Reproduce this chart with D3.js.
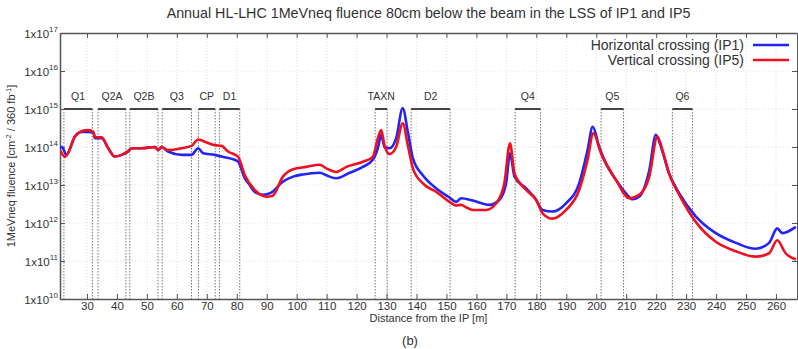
<!DOCTYPE html>
<html><head><meta charset="utf-8">
<script src="https://cdn.jsdelivr.net/npm/d3@7"></script>
<style>
body{margin:0;background:#fff}
svg text{font-family:"Liberation Sans",Arial,sans-serif;fill:#333}
</style>
</head><body>
<svg id="chart" width="798" height="349"></svg>
<script>
// ---- data ----
const titleText = "Annual HL-LHC 1MeVneq fluence 80cm below the beam in the LSS of IP1 and IP5";
const seriesNames = ["Horizontal crossing (IP1)", "Vertical crossing (IP5)"];
const xTicks = [30,40,50,60,70,80,90,100,110,120,130,140,150,160,170,180,190,200,210,220,230,240,250,260];
const yTicks = [1e10,1e11,1e12,1e13,1e14,1e15,1e16,1e17];
const yTickExponents = ["10","11","12","13","14","15","16","17"];
const elementNames = ["Q1","Q2A","Q2B","Q3","CP","D1","TAXN","D2","Q4","Q5","Q6"];
const elementStart = [22.3,33.7,44.3,55.1,67.2,74.2,126.2,138.2,172.9,201.6,225.4];
const elementEnd   = [31.8,43.0,53.7,64.9,72.8,81.0,130.2,151.2,181.4,209.1,232.1];

// Horizontal crossing (IP1): [distance m, fluence]
const horizontalIP1 = [[21.0,9.3e13],[21.6,1.0e14],[23.2,6.2e13],[26.0,1.9e14],[28.2,2.5e14],[30.4,2.5e14],[32.1,2.4e14],[32.7,1.7e14],[34.9,1.7e14],[37.1,9.3e13],[39.3,5.6e13],[41.6,6.2e13],[43.8,7.6e13],[44.9,9.3e13],[48.2,9.3e13],[52.7,1.0e14],[53.8,8.3e13],[54.9,1.0e14],[57.1,7.6e13],[61.6,6.2e13],[64.9,6.2e13],[67.1,9.3e13],[68.8,6.8e13],[72.7,6.2e13],[74.9,5.6e13],[79.3,4.6e13],[80.4,4.2e13],[82.7,1.5e13],[84.3,1.0e13],[86.0,6.6e12],[88.8,5.5e12],[91.5,6.3e12],[95.4,1.23e13],[98.8,1.66e13],[102.1,1.9e13],[107.7,2.1e13],[109.9,1.8e13],[113.2,1.5e13],[117.7,2.1e13],[122.1,3.0e13],[125.4,4.6e13],[127.1,9.3e13],[128.2,2.1e14],[129.3,1.0e14],[131.0,9.3e13],[133.2,1.7e14],[135.4,1.05e15],[137.1,2.5e14],[138.8,5.0e13],[142.1,1.8e13],[146.6,8.1e12],[151.0,4.7e12],[153.2,3.6e12],[154.9,4.5e12],[158.8,3.9e12],[164.3,3.0e12],[167.7,4.1e12],[169.9,1.1e13],[171.2,6.8e13],[172.7,1.66e13],[176.6,8.1e12],[179.9,4.1e12],[182.1,2.2e12],[185.4,2.0e12],[189.9,3.3e12],[194.3,1.1e13],[197.1,8.3e13],[198.8,3.4e14],[201.0,1.0e14],[203.2,3.7e13],[206.6,1.35e13],[209.9,6.0e12],[212.1,4.2e12],[214.3,4.9e12],[217.7,2.45e13],[219.9,2.1e14],[221.6,1.0e14],[224.3,2.0e13],[227.7,6.0e12],[233.2,1.5e12],[239.9,5.4e11],[246.6,3.0e11],[253.2,2.1e11],[257.7,3.0e11],[260.4,7.2e11],[262.1,5.4e11],[266.6,7.9e11]];

// Vertical crossing (IP5): [distance m, fluence]
const verticalIP5 = [[21.0,8.3e13],[22.7,5.5e13],[26.0,1.9e14],[28.2,2.6e14],[30.4,2.8e14],[32.1,2.5e14],[32.7,1.8e14],[34.9,1.8e14],[37.1,9.3e13],[39.3,5.6e13],[41.6,6.2e13],[43.8,7.9e13],[44.9,9.3e13],[48.2,9.3e13],[52.7,1.0e14],[53.8,8.3e13],[54.9,1.0e14],[57.1,8.3e13],[61.6,9.3e13],[64.9,1.07e14],[67.1,1.58e14],[69.3,1.38e14],[72.7,1.12e14],[74.9,1.07e14],[77.1,7.6e13],[80.4,5.6e13],[82.7,1.8e13],[86.0,7.4e12],[90.0,4.9e12],[92.0,5.2e12],[95.4,1.66e13],[98.8,2.6e13],[103.2,3.0e13],[107.7,3.4e13],[109.9,2.75e13],[113.2,2.2e13],[116.6,3.0e13],[122.1,4.1e13],[125.4,5.5e13],[127.1,1.7e14],[128.2,2.8e14],[129.3,1.1e14],[131.0,6.5e13],[133.2,1.0e14],[135.4,4.2e14],[137.1,1.1e14],[138.8,2.75e13],[142.1,1.1e13],[146.6,6.6e12],[151.0,3.6e12],[153.2,2.9e12],[154.9,3.0e12],[156.5,2.6e12],[158.8,2.2e12],[163.2,2.2e12],[166.6,3.3e12],[169.3,1.1e13],[171.2,1.26e14],[172.7,2.0e13],[176.6,7.4e12],[179.9,4.1e12],[182.1,1.8e12],[185.4,1.3e12],[189.9,2.2e12],[194.3,7.4e12],[197.1,4.6e13],[199.0,2.3e14],[201.6,6.8e13],[206.6,1.35e13],[211.0,4.5e12],[214.3,5.5e12],[217.7,1.66e13],[220.4,1.86e14],[222.1,8.3e13],[224.3,2.0e13],[227.7,5.5e12],[233.2,1.07e12],[239.9,3.2e11],[246.6,1.8e11],[253.2,1.3e11],[257.7,1.6e11],[260.4,3.5e11],[263.2,1.6e11],[266.6,1.1e11]];

const elementLevel = 1e15;

// ---- layout ----
const L = 60, R = 797, T = 33, B = 299;
const svg = d3.select("#chart");
const x = d3.scaleLinear().domain([21, 267]).range([L, R]);
const y = d3.scaleLog().domain([1e10, 1e17]).range([B, T]);

svg.append("defs").append("clipPath").attr("id","clip")
  .append("rect").attr("x",L).attr("y",T).attr("width",R-L).attr("height",B-T);

// grid
const grid = svg.append("g");
grid.selectAll(".gx").data(xTicks).join("line")
  .attr("x1",d=>x(d)).attr("x2",d=>x(d)).attr("y1",T).attr("y2",B)
  .attr("stroke","#d8d8d8").attr("stroke-width",0.8).attr("stroke-dasharray","1,2");
grid.selectAll(".gy").data(yTicks.slice(1,-1)).join("line")
  .attr("x1",L).attr("x2",R).attr("y1",d=>y(d)).attr("y2",d=>y(d))
  .attr("stroke","#d8d8d8").attr("stroke-width",0.8).attr("stroke-dasharray","1,2");

// element markers
const el = svg.append("g");
elementNames.forEach((n,i)=>{
  [elementStart[i], elementEnd[i]].forEach(v=>{
    el.append("line").attr("x1",x(v)).attr("x2",x(v)).attr("y1",y(elementLevel)).attr("y2",B)
      .attr("stroke","#666").attr("stroke-width",0.9).attr("stroke-dasharray","1.5,1.5");
  });
  el.append("line").attr("x1",x(elementStart[i])).attr("x2",x(elementEnd[i]))
    .attr("y1",y(elementLevel)).attr("y2",y(elementLevel))
    .attr("stroke","#444").attr("stroke-width",2);
  el.append("text").attr("x",(x(elementStart[i])+x(elementEnd[i]))/2).attr("y",y(elementLevel)-9)
    .attr("text-anchor","middle").attr("font-size",10.5).text(n);
});

// axes
const axCol = "#555";
const gxB = svg.append("g").attr("transform",`translate(0,${B})`)
  .call(d3.axisBottom(x).tickValues(xTicks).tickSize(-5).tickSizeOuter(0).tickPadding(3));
const gxT = svg.append("g").attr("transform",`translate(0,${T})`)
  .call(d3.axisTop(x).tickValues(xTicks).tickSize(-5).tickSizeOuter(0).tickFormat(""));
const gyL = svg.append("g").attr("transform",`translate(${L},0)`)
  .call(d3.axisLeft(y).tickValues(yTicks).tickSize(-5).tickSizeOuter(0).tickFormat(""));
const gyR = svg.append("g").attr("transform",`translate(${R},0)`)
  .call(d3.axisRight(y).tickValues(yTicks).tickSize(-5).tickSizeOuter(0).tickFormat(""));
[gxB,gxT,gyL,gyR].forEach(g=>{
  g.select(".domain").attr("stroke",axCol).attr("stroke-width",1.5);
  g.selectAll(".tick line").attr("stroke",axCol);
});
gyR.select(".domain").attr("stroke-width",1);
gxB.selectAll(".tick text").attr("font-size",11.5).attr("fill","#333")
  .attr("font-family",'"Liberation Sans",Arial,sans-serif');

// y tick labels 1x10^n
const yl = svg.append("g");
yTicks.forEach((v,i)=>{
  const t = yl.append("text").attr("x",L-2).attr("y",y(v)+5).attr("text-anchor","end").attr("font-size",11.5);
  t.append("tspan").text("1x10");
  t.append("tspan").attr("font-size",8).attr("dy",-6).text(yTickExponents[i]);
});

// series
const line = d3.line().x(d=>x(d[0])).y(d=>y(d[1])).curve(d3.curveMonotoneX);
const colors = ["#2424f5","#f01020"];
const plot = svg.append("g").attr("clip-path","url(#clip)");
[horizontalIP1, verticalIP5].forEach((s,i)=>{
  plot.append("path").datum(s).attr("d",line).attr("fill","none")
    .attr("stroke",colors[i]).attr("stroke-width",2.6).attr("stroke-linejoin","round");
});

// legend
seriesNames.forEach((n,i)=>{
  const yy = 45 + i*15;
  svg.append("text").attr("x",744).attr("y",yy+4.5).attr("text-anchor","end").attr("font-size",14).text(n);
  svg.append("line").attr("x1",753).attr("x2",789).attr("y1",yy).attr("y2",yy)
    .attr("stroke",colors[i]).attr("stroke-width",2.6);
});

// title and labels
svg.append("text").attr("x",(L+R)/2).attr("y",18).attr("text-anchor","middle").attr("font-size",14.3).text(titleText);
svg.append("text").attr("x",(L+R)/2).attr("y",322).attr("text-anchor","middle").attr("font-size",11).text("Distance from the IP [m]");
const ylab = svg.append("text").attr("transform",`translate(15,${(T+B)/2}) rotate(-90)`)
  .attr("text-anchor","middle").attr("font-size",11);
ylab.append("tspan").text("1MeVneq fluence [cm");
ylab.append("tspan").attr("font-size",7.5).attr("dy",-4).text("-2");
ylab.append("tspan").attr("dy",4).text(" / 360 fb");
ylab.append("tspan").attr("font-size",7.5).attr("dy",-4).text("-1");
ylab.append("tspan").attr("dy",4).text("]");
svg.append("text").attr("x",410).attr("y",345).attr("text-anchor","middle").attr("font-size",13).text("(b)");
</script>
</body></html>
